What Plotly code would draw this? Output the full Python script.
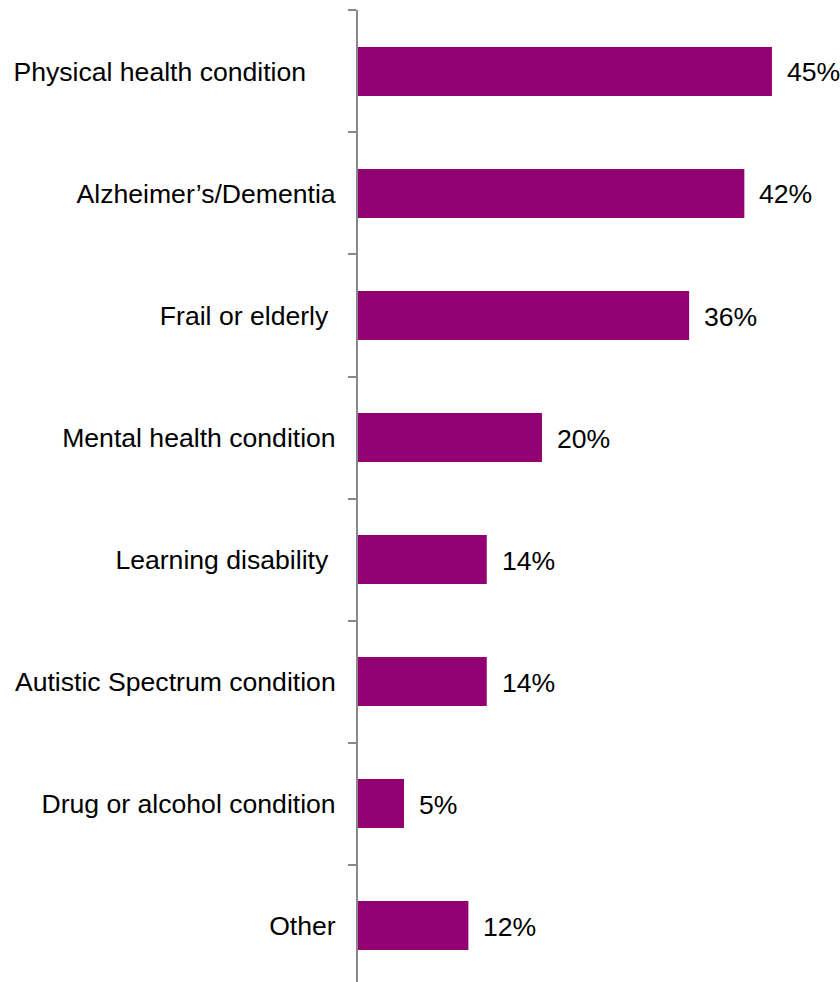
import plotly.graph_objects as go

# Share of respondents by condition (percent)
categories = [
    "Physical health condition\u00a0\u00a0\u00a0\u00a0",
    "Alzheimer\u2019s/Dementia",
    "Frail or elderly\u00a0",
    "Mental health condition",
    "Learning disability\u00a0",
    "Autistic Spectrum condition",
    "Drug or alcohol condition",
    "Other",
]
values = [45, 42, 36, 20, 14, 14, 5, 12]
value_labels = ["45%", "42%", "36%", "20%", "14%", "14%", "5%", "12%"]

bar_color = "#920071"
font_family = "Liberation Sans, Arial, sans-serif"
font_size = 26.6

fig = go.Figure(
    go.Bar(
        x=values,
        y=categories,
        orientation="h",
        width=0.4,
        marker=dict(color=bar_color, line=dict(width=0)),
        hoverinfo="skip",
    )
)

for cat, val, lab in zip(categories, values, value_labels):
    fig.add_annotation(
        x=val, y=cat, text=lab, showarrow=False,
        xanchor="left", yanchor="middle", xshift=13, yshift=-1,
        font=dict(family=font_family, size=font_size, color="#000000"),
    )

fig.update_layout(
    width=840, height=982,
    margin=dict(l=358, r=0, t=10, b=0),
    paper_bgcolor="white", plot_bgcolor="white",
    showlegend=False,
    font=dict(family=font_family, size=font_size, color="#000000"),
    xaxis=dict(
        range=[0, 52.4], visible=False, fixedrange=True,
    ),
    yaxis=dict(
        type="category",
        range=[7.463, -0.504],
        showline=True, linecolor="#888888", linewidth=2,
        ticks="outside", tickson="boundaries", ticklen=8,
        tickcolor="#888888", tickwidth=2,
        ticklabelstandoff=15,
        showgrid=False, zeroline=False,
        tickfont=dict(family=font_family, size=font_size, color="#000000"),
        fixedrange=True,
    ),
)

fig.write_html("out.html")
